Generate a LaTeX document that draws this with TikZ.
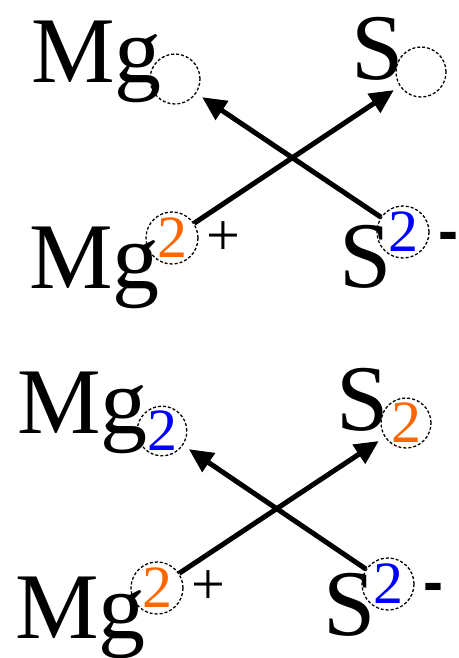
\documentclass[tikz,border=0pt]{standalone}
\usepackage{fontspec}
\setmainfont{Liberation Serif}
\newfontfamily\timesfont{Liberation Serif}
\newfontfamily\dashfont{Liberation Sans}
\usetikzlibrary{arrows.meta}
\definecolor{orng}{HTML}{FF6600}
\definecolor{blu}{HTML}{0000FF}
\tikzset{
  elem/.style={anchor=base west, inner sep=0pt, font=\timesfont\fontsize{94}{94}\selectfont},
  shell/.style={circle, draw, dashed, dash pattern=on 3pt off 2pt, line width=1.3pt, inner sep=0pt, minimum size=#1, font=\timesfont\fontsize{60}{60}\selectfont},
  shell/.default=50pt,
  chg/.style={inner sep=0pt, font=\timesfont\fontsize{60}{60}\selectfont},
  mns/.style={inner sep=0pt, font=\dashfont\bfseries\fontsize{60}{60}\selectfont},
  transfer/.style={line width=5pt, -{Triangle[length=24pt,width=22pt]}, shorten >=7pt}
}
\begin{document}
\begin{tikzpicture}[x=1pt,y=-1pt]
\useasboundingbox (0,0) rectangle (458,658);
% top panel
\node[elem] (mg1) at (31,83) {Mg};
\node[elem] (s1) at (351,80) {S};
\node[elem] (mg2) at (29,288) {Mg};
\node[elem] (s2) at (339,287) {S};
\node[shell] (cA) at (175,79) {};
\node[shell] (cB) at (421,72) {};
\node[shell=52pt, text=orng] (cC) at (172,238) {2};
\node[shell=52pt, text=blu] (cD) at (403,232) {2};
\node[chg] (p1) at (223,239) {+};
\node[mns] (m1) at (448,242) {-};
\draw[transfer] (cC) -- (cB);
\draw[transfer] (cD) -- (cA);
% bottom panel
\node[elem] (mg3) at (17,433) {Mg};
\node[elem] (s3) at (336,430) {S};
\node[elem] (mg4) at (15,638) {Mg};
\node[elem] (s4) at (323,635) {S};
\node[shell=48pt, text=blu] (cE) at (162,431) {2};
\node[shell, text=orng] (cF) at (406,423) {2};
\node[shell=52pt, text=orng] (cG) at (157,588) {2};
\node[shell=52pt, text=blu] (cH) at (388,584) {2};
\node[chg] (p2) at (208,588) {+};
\node[mns] (m2) at (433,593) {-};
\draw[transfer] (cG) -- (cF);
\draw[transfer] (cH) -- (cE);
\end{tikzpicture}
\end{document}
